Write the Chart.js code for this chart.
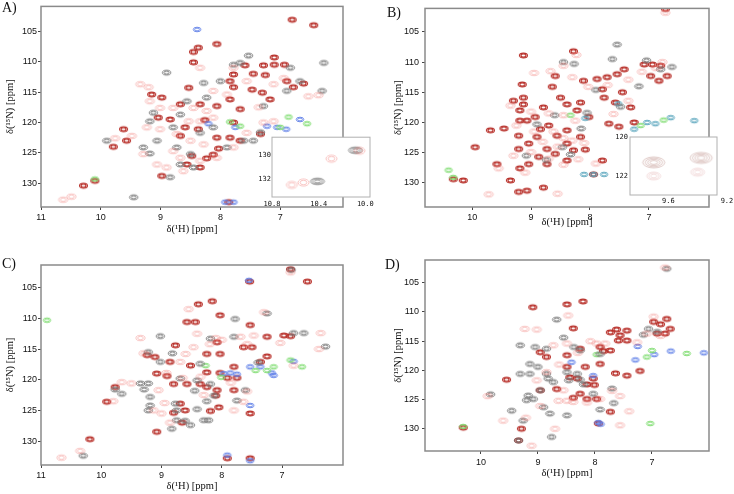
<!DOCTYPE html>
<html>
<head>
<meta charset="utf-8">
<script src="https://cdn.jsdelivr.net/npm/chart.js@4.4.1/dist/chart.umd.min.js"></script>
<style>
body { margin: 0; background: #fff; width: 734px; height: 494px; position: relative; overflow: hidden; }
canvas { position: absolute; }
.lab { position: absolute; font: 14px "Liberation Serif", serif; color: #111; }
</style>
</head>
<body>
<canvas id="chartA" width="367" height="247" style="left:0;top:0"></canvas>
<canvas id="chartB" width="367" height="247" style="left:367px;top:0"></canvas>
<canvas id="chartC" width="367" height="247" style="left:0;top:247px"></canvas>
<canvas id="chartD" width="367" height="247" style="left:367px;top:247px"></canvas>
<canvas id="insetA" width="124" height="80" style="left:256px;top:132px"></canvas>
<canvas id="insetB" width="122" height="80" style="left:612px;top:130px"></canvas>
<div class="lab" style="left:2px;top:0">A)</div>
<div class="lab" style="left:387px;top:5px">B)</div>
<div class="lab" style="left:2px;top:256px">C)</div>
<div class="lab" style="left:385px;top:257px">D)</div>
<script>
// tick labels
const xTicksWide = [11, 10, 9, 8, 7];
const xTicksNarrow = [10, 9, 8, 7];
const yTicks = [105, 110, 115, 120, 125, 130];
const insetAXTicks = [10.8, 10.4, 10.0];
const insetAYTicks = [130, 132];
const insetBXTicks = [9.6, 9.2];
const insetBYTicks = [120, 122];

// peaks [1H ppm, 15N ppm]
const aRed = [[6.80,103.1],[6.44,104.0],[8.06,107.1],[8.37,107.7],[8.45,108.4],[7.10,109.3],[8.45,110.1],[7.59,110.6],[7.28,110.6],[7.10,110.5],[6.93,110.5],[7.78,112.1],[7.45,112.0],[7.25,112.2],[7.84,113.2],[6.89,113.2],[6.61,113.6],[6.78,114.2],[7.78,114.2],[8.53,114.3],[7.47,114.6],[7.30,115.1],[9.15,115.4],[8.98,115.9],[7.84,116.2],[7.17,116.2],[8.67,117.0],[8.34,117.0],[8.06,117.3],[7.67,117.8],[9.04,119.2],[8.84,119.5],[8.26,119.6],[7.78,120.0],[9.62,121.1],[8.59,120.8],[8.37,121.1],[8.67,122.2],[8.06,122.5],[7.84,122.5],[7.33,121.9],[9.57,123.0],[7.67,123.0],[9.79,124.0],[8.03,124.3],[8.48,125.5],[8.12,125.3],[8.23,125.9],[8.56,126.9],[8.34,127.4],[8.98,128.8],[10.10,129.6],[10.29,130.4],[7.86,133.1]];
const aGrey = [[8.90,111.8],[6.27,110.2],[6.30,114.8],[7.53,109.0],[7.67,110.2],[8.00,113.2],[8.28,113.5],[8.56,116.5],[6.89,114.8],[6.67,113.2],[7.28,117.3],[8.23,115.9],[9.12,118.4],[8.67,118.7],[9.18,119.8],[8.79,120.8],[8.12,120.8],[8.34,121.7],[9.06,123.0],[9.29,124.1],[9.18,125.1],[8.73,124.1],[8.50,125.2],[7.89,124.1],[7.61,123.0],[7.45,123.0],[8.45,127.4],[8.67,126.9],[8.84,129.0],[9.90,123.0],[9.45,132.3],[7.33,121.6],[7.78,110.5],[6.83,111.0]];
const aPink = [[10.63,132.7],[10.49,132.2],[9.34,113.7],[9.20,114.2],[9.76,122.6],[9.48,122.2],[6.53,115.7],[6.36,115.5],[7.36,117.5],[9.18,116.5],[9.01,117.6],[8.79,117.6],[8.45,117.6],[8.23,118.1],[9.23,120.8],[9.01,121.1],[8.73,121.9],[8.50,123.0],[8.28,123.6],[8.79,124.7],[8.67,125.8],[8.34,126.3],[8.90,127.4],[8.62,128.0],[9.06,126.9],[8.06,125.8],[7.78,124.1],[7.56,121.7],[7.28,120.0],[7.11,119.8],[8.12,114.8],[7.89,115.4],[7.56,113.2],[7.11,113.7],[6.94,112.7],[8.34,111.0],[7.78,111.0],[8.12,119.2],[8.34,119.8],[8.53,119.8],[9.29,125.2]];
const aBlue = [[7.22,120.6],[7.05,120.8],[6.90,121.1],[6.67,119.5],[7.75,120.8],[7.92,133.1],[7.78,133.1],[8.20,120.2],[8.39,104.7]];
const aGreen = [[6.86,119.1],[6.55,120.2],[7.67,120.6],[7.00,120.8],[10.10,129.3],[7.84,119.9]];

const bRed = [[6.72,101.2],[9.13,108.9],[8.28,108.2],[8.59,112.3],[9.15,113.7],[8.64,114.1],[8.11,113.1],[7.88,112.8],[7.71,112.5],[7.54,112.0],[7.42,111.2],[7.79,114.5],[7.45,115.0],[7.08,110.4],[6.94,110.4],[6.80,110.6],[6.97,112.3],[6.83,113.1],[6.69,112.3],[9.30,116.4],[9.13,115.9],[9.13,117.0],[9.19,118.0],[8.79,117.5],[8.50,115.9],[8.39,117.0],[8.16,116.7],[7.76,115.9],[7.57,116.7],[7.31,117.5],[8.93,119.1],[9.07,119.7],[9.19,119.7],[8.22,118.0],[8.02,119.1],[7.51,120.7],[7.25,120.0],[7.68,120.2],[9.69,121.3],[9.46,121.0],[9.21,122.2],[8.84,121.1],[8.70,120.5],[8.56,122.2],[8.39,121.3],[8.16,122.4],[9.04,123.5],[8.90,122.4],[8.73,124.4],[8.39,123.5],[8.28,124.6],[8.08,124.5],[9.95,124.1],[9.21,124.4],[8.87,125.7],[8.59,125.2],[8.39,126.3],[9.58,126.9],[9.04,126.9],[8.73,126.9],[9.19,127.6],[7.79,126.3],[9.35,129.6],[10.32,129.4],[10.15,129.6],[9.21,131.5],[9.07,131.3],[8.79,130.8],[7.94,128.6]];
const bGrey = [[7.54,107.1],[7.04,109.7],[8.45,110.0],[7.17,114.0],[7.48,117.4],[8.47,124.1],[8.90,120.3],[6.80,111.2],[8.27,110.3],[7.90,114.6],[8.60,118.8],[8.15,121.0],[8.33,125.3],[9.08,125.5],[7.62,109.5],[8.74,126.2],[8.05,118.4],[6.61,110.8]];
const bPink = [[8.67,111.5],[8.45,110.6],[8.95,111.8],[8.30,112.5],[8.03,114.1],[7.70,113.8],[7.35,112.9],[7.12,111.6],[6.88,111.0],[6.77,110.0],[9.35,117.2],[9.00,118.2],[8.70,118.5],[8.45,118.8],[8.25,119.7],[9.25,120.5],[8.95,121.5],[8.62,121.5],[8.45,122.6],[8.80,123.2],[9.00,124.9],[8.55,124.0],[8.30,123.0],[8.10,123.4],[8.70,126.0],[8.45,127.0],[9.30,125.5],[9.10,128.3],[8.20,126.1],[7.60,118.6],[7.35,116.4],[7.90,126.8],[9.55,127.6],[8.55,131.8],[9.72,131.9],[6.72,101.8],[8.23,108.8]];
const bBlue = [[7.03,120.0],[6.89,120.2],[6.63,119.2],[6.23,119.7],[7.25,121.1],[8.08,119.3],[7.94,128.6],[7.76,128.6],[8.10,128.6],[7.52,116.9]];
const bGreen = [[7.14,120.5],[6.75,119.6],[10.40,127.9],[8.33,118.8],[10.32,129.1]];

const cRed = [[6.58,104.0],[7.54,104.0],[8.16,107.2],[8.39,107.7],[8.03,109.5],[8.44,110.6],[8.58,110.6],[7.53,111.1],[7.25,113.0],[6.97,112.8],[6.86,112.9],[8.77,114.4],[8.08,113.9],[7.64,114.7],[7.50,114.7],[8.25,115.8],[8.03,115.8],[7.25,116.2],[9.24,116.0],[9.11,116.3],[8.86,117.1],[8.52,117.7],[7.80,117.9],[7.36,117.1],[9.08,119.0],[8.91,119.4],[8.25,118.8],[8.03,118.9],[7.91,119.7],[7.75,119.7],[9.77,121.2],[8.80,120.7],[8.58,120.7],[8.36,120.7],[8.25,121.2],[8.08,121.7],[7.80,121.7],[9.91,123.6],[8.10,122.6],[8.05,124.5],[8.19,125.1],[8.69,123.9],[8.61,125.0],[8.80,125.4],[8.66,127.0],[9.08,128.5],[10.19,129.7],[7.91,132.8],[7.53,132.8],[7.53,125.5],[6.86,102.0]];
const cGrey = [[6.85,102.1],[9.02,112.9],[8.19,113.3],[7.80,113.0],[7.25,109.2],[7.78,110.1],[6.81,112.4],[6.64,112.4],[6.28,114.6],[9.22,115.5],[8.82,115.7],[9.02,117.1],[8.36,117.4],[9.35,120.6],[9.22,120.6],[9.29,121.6],[8.69,119.8],[8.41,120.1],[8.19,120.7],[8.13,122.6],[7.75,123.4],[9.19,122.8],[9.19,124.2],[9.22,125.0],[8.77,123.9],[8.75,125.0],[8.41,124.8],[8.25,123.5],[8.75,126.6],[8.61,126.7],[8.30,126.6],[8.83,128.0],[8.52,127.4],[8.22,126.6],[9.77,121.6],[9.66,122.3],[10.30,132.4],[7.61,121.7],[7.40,117.2],[8.45,121.8]];
const cPink = [[10.66,132.7],[10.35,131.6],[9.80,123.5],[9.66,120.4],[9.35,113.2],[9.30,115.7],[8.69,117.1],[8.60,115.8],[8.47,114.7],[8.41,112.5],[8.20,114.2],[8.00,113.5],[7.69,113.0],[7.58,114.2],[7.47,112.8],[7.03,114.0],[6.86,102.5],[6.36,112.4],[6.39,115.0],[6.81,117.7],[7.80,125.0],[7.64,123.6],[7.58,121.9],[8.30,122.5],[8.95,123.8],[9.13,125.0],[9.00,125.5],[8.86,127.0],[9.05,121.7],[9.50,120.6],[8.65,119.7],[7.85,120.5],[8.10,113.2],[8.92,118.9],[8.35,119.5],[7.30,109.0],[8.55,108.5]];
const cBlue = [[7.86,118.9],[7.97,119.0],[7.36,117.9],[7.17,118.9],[7.14,119.3],[6.81,117.0],[7.53,133.2],[7.53,124.2],[7.53,117.9],[7.55,103.8],[7.91,132.3],[7.75,119.1]];
const cGreen = [[7.25,118.5],[6.86,116.8],[6.67,117.9],[7.44,118.5],[8.27,117.7],[7.14,117.9],[10.90,110.3],[8.01,119.6]];

const dRed = [[10.31,129.8],[9.55,121.6],[9.09,109.2],[8.21,108.2],[8.49,108.7],[8.38,112.8],[7.44,113.2],[7.56,114.0],[7.73,113.5],[7.62,113.0],[7.44,114.9],[7.59,114.9],[6.97,111.7],[6.85,112.1],[6.74,111.2],[6.68,112.9],[6.91,113.7],[6.77,113.7],[8.85,117.7],[8.49,117.4],[8.26,116.3],[7.91,116.0],[7.73,116.6],[7.85,116.7],[7.21,120.1],[7.44,120.9],[7.64,120.5],[7.91,118.9],[8.17,119.4],[8.03,121.4],[8.01,122.5],[8.14,122.4],[8.31,121.4],[8.44,121.2],[8.26,124.0],[8.14,124.9],[7.97,124.9],[8.38,124.7],[8.67,123.2],[8.96,123.4],[7.94,129.1],[7.73,127.1],[9.29,130.0],[9.34,132.0],[8.49,119.4],[8.96,116.9]];
const dGrey = [[6.74,102.6],[8.67,111.3],[9.31,115.7],[9.05,116.0],[8.85,116.3],[8.55,114.4],[8.37,116.0],[8.26,116.6],[7.91,117.2],[9.14,118.9],[9.00,119.4],[9.31,120.6],[9.14,120.6],[8.85,120.6],[8.82,121.4],[8.73,122.0],[8.49,120.3],[8.46,121.7],[8.31,120.6],[8.96,123.4],[9.17,124.3],[9.08,124.9],[9.20,125.1],[8.90,126.3],[8.79,127.4],[8.49,127.7],[8.26,121.6],[8.20,122.4],[7.91,126.7],[7.67,125.6],[7.70,123.1],[7.06,112.9],[7.15,113.9],[6.91,113.4],[8.03,124.0],[9.46,126.9],[9.26,128.6],[8.76,131.4],[9.83,124.1],[9.34,132.0]];
const dPink = [[6.77,102.4],[9.61,128.6],[9.21,128.1],[9.11,132.9],[8.70,130.0],[9.23,112.9],[8.47,110.6],[8.73,115.7],[8.49,115.4],[7.97,115.4],[7.82,115.4],[7.26,115.2],[7.09,113.7],[6.97,110.8],[6.85,114.1],[8.85,120.3],[9.02,121.7],[8.55,123.4],[8.38,125.4],[8.96,126.1],[8.64,125.2],[8.49,125.2],[8.14,125.5],[7.70,123.5],[7.56,124.4],[8.08,115.0],[7.91,124.9],[7.56,129.4],[9.88,124.4],[9.02,113.0],[8.63,119.0],[8.30,117.0],[7.40,127.0]];
const dBlue = [[7.25,115.9],[6.96,117.3],[6.67,116.7],[6.09,117.0],[7.29,118.2],[7.94,128.9],[8.41,118.6],[8.03,120.9],[7.90,129.2]];
const dGreen = [[7.97,117.3],[7.09,117.7],[6.39,117.1],[7.00,116.6],[7.03,129.1],[10.31,129.6]];

const insetAGrey = [[10.085,129.56],[10.41,132.2]];
const insetAPink = [[10.05,129.6],[10.29,130.28],[10.53,132.3],[10.63,132.5]];
const insetBPeaks = [[9.70,121.3],[9.376,121.07]];
const insetBLow = [[9.70,122.0],[9.40,121.8]];

// contour-like ring images used as point styles
function makeRing(color, rx, ry, lw, levels) {
    const c = document.createElement("canvas");
    c.width = Math.ceil(rx * 2 + lw * 2 + 2);
    c.height = Math.ceil(ry * 2 + lw * 2 + 2);
    const g = c.getContext("2d");
    g.strokeStyle = color;
    g.lineWidth = lw;
    for (let i = 0; i < levels; i++) {
        const f = 1 - i / (levels + 0.6);
        g.beginPath();
        g.ellipse(c.width / 2, c.height / 2, rx * f, ry * f, 0, 0, Math.PI * 2);
        g.stroke();
    }
    return c;
}
const ringRed = makeRing("#b8302a", 4, 2.4, 1.1, 2);
const ringGrey = makeRing("#777", 4.2, 2.4, 1, 2);
const ringPink = makeRing("rgba(240,120,115,0.45)", 4.6, 2.7, 0.9, 2);
const ringBlue = makeRing("#6080e8", 3.8, 2.3, 0.9, 2);
const ringTeal = makeRing("#5aa6bd", 3.8, 2.3, 0.9, 2);
const ringGreen = makeRing("#7fdc70", 3.8, 2.3, 0.9, 2);
const ringInsetGrey = makeRing("#8a8a8a", 7, 3.3, 0.9, 3);
const ringInsetPink = makeRing("rgba(240,120,115,0.45)", 5.5, 3.6, 0.9, 2);
const ringInsetB = makeRing("rgba(170,110,100,0.5)", 11, 5.5, 0.7, 4);
const ringInsetBLow = makeRing("rgba(220,150,150,0.4)", 7, 4, 0.7, 3);

// frame around the plot area
function frame(color, width, fill) {
    return {
        id: "frame",
        beforeDraw(chart) {
            if (!fill) return;
            const a = chart.chartArea, ctx = chart.ctx;
            ctx.save();
            ctx.fillStyle = "#fff";
            ctx.fillRect(a.left, a.top, a.right - a.left, a.bottom - a.top);
            ctx.restore();
        },
        afterDatasetsDraw(chart) {
            const a = chart.chartArea, ctx = chart.ctx;
            ctx.save();
            ctx.strokeStyle = color;
            ctx.lineWidth = width;
            ctx.strokeRect(a.left, a.top, a.right - a.left, a.bottom - a.top);
            ctx.restore();
        }
    };
}

function makeChart(id, o) {
    const tickFont = o.inset ? {family: "DejaVu Sans Mono", size: 7} : {family: "Liberation Sans", size: 9};
    const grid = o.inset ? {display: false, drawTicks: false}
        : {display: true, drawOnChartArea: false, drawTicks: true, tickLength: 3, color: "#444", lineWidth: 1};
    const titleFont = {family: "Liberation Serif", size: 10.5};
    return new Chart(document.getElementById(id), {
        type: "scatter",
        data: {
            datasets: o.sets.map(s => ({
                data: s[0].map(p => ({x: p[0], y: p[1]})),
                pointStyle: s[1],
                pointRadius: 3
            }))
        },
        options: {
            responsive: false,
            animation: false,
            events: [],
            layout: {padding: o.pad},
            plugins: {legend: {display: false}, tooltip: {enabled: false}},
            scales: {
                x: {
                    type: "linear", reverse: true, min: o.x[0], max: o.x[1],
                    afterBuildTicks: s => { s.ticks = o.xTicks.map(v => ({value: v})); },
                    afterFit: s => { s.height = o.xH; },
                    ticks: {font: tickFont, color: "#111", padding: o.xPad, autoSkip: false, maxRotation: 0,
                        callback: v => o.inset ? v.toFixed(1) : v},
                    grid: grid,
                    border: {display: false},
                    title: {display: !!o.xTitle, text: o.xTitle, font: titleFont, color: "#111",
                        padding: {top: 0, bottom: o.xTitlePad || 0}}
                },
                y: {
                    type: "linear", reverse: true, min: o.y[0], max: o.y[1],
                    afterBuildTicks: s => { s.ticks = o.yTicks.map(v => ({value: v})); },
                    afterFit: s => { s.width = o.yW; },
                    ticks: {font: tickFont, color: "#111", padding: o.yPad, autoSkip: false},
                    grid: grid,
                    border: {display: false},
                    title: {display: !!o.yTitle, text: o.yTitle, font: titleFont, color: "#111",
                        padding: {top: o.yTitlePad || 0, bottom: 0}}
                }
            }
        },
        plugins: [o.inset ? frame("#b0b0b0", 1, true) : frame("#8a8a8a", 1.5, false)]
    });
}

const hTitle = "δ(¹H) [ppm]";
const nTitle = "δ(¹⁵N) [ppm]";

makeChart("chartA", {
    pad: {top: 5, right: 24, left: 0, bottom: 0}, x: [5.95, 11], y: [100.9, 133.9],
    xTicks: xTicksWide, yTicks: yTicks, xH: 40, yW: 41, xPad: 2, yPad: 1,
    xTitle: hTitle, yTitle: nTitle, xTitlePad: 11.7, yTitlePad: 3.7,
    sets: [[aPink, ringPink], [aGrey, ringGrey], [aGreen, ringGreen], [aBlue, ringBlue], [aRed, ringRed]]
});
makeChart("chartB", {
    pad: {top: 7, right: 25, left: 0, bottom: 0}, x: [5.98, 10.8], y: [101.1, 134],
    xTicks: xTicksNarrow, yTicks: yTicks, xH: 40, yW: 58, xPad: 2, yPad: 3,
    xTitle: hTitle, yTitle: nTitle, xTitlePad: 18, yTitlePad: 25.4,
    sets: [[bPink, ringPink], [bGrey, ringGrey], [bGreen, ringGreen], [bBlue, ringTeal], [bRed, ringRed]]
});
makeChart("chartC", {
    pad: {top: 18, right: 24, left: 0, bottom: 0}, x: [5.99, 11], y: [101.3, 133.9],
    xTicks: xTicksWide, yTicks: yTicks, xH: 29, yW: 41, xPad: 2, yPad: 1,
    xTitle: hTitle, yTitle: nTitle, xTitlePad: 1.4, yTitlePad: 3.7,
    sets: [[cPink, ringPink], [cGrey, ringGrey], [cGreen, ringGreen], [cBlue, ringBlue], [cRed, ringRed]]
});
makeChart("chartD", {
    pad: {top: 13, right: 25, left: 0, bottom: 0}, x: [6.0, 10.98], y: [101.1, 133.8],
    xTicks: xTicksNarrow, yTicks: yTicks, xH: 43, yW: 58, xPad: 3, yPad: 3,
    xTitle: hTitle, yTitle: nTitle, xTitlePad: 14, yTitlePad: 25.4,
    sets: [[dPink, ringPink], [dGrey, ringGrey], [dGreen, ringGreen], [dBlue, ringBlue], [dRed, ringRed]]
});

// insets
makeChart("insetA", {
    inset: true, pad: {top: 4, right: 10, left: 0, bottom: 0}, x: [9.96, 10.8], y: [128.45, 133.53],
    xTicks: insetAXTicks, yTicks: insetAYTicks, xH: 15, yW: 16, xPad: 3, yPad: 1,
    sets: [[insetAPink, ringInsetPink], [insetAGrey, ringInsetGrey]]
});
makeChart("insetB", {
    inset: true, pad: {top: 7, right: 17, left: 0, bottom: 0}, x: [9.268, 9.862], y: [120.0, 122.97],
    xTicks: insetBXTicks, yTicks: insetBYTicks, xH: 15, yW: 18, xPad: 2, yPad: 2,
    sets: [[insetBLow, ringInsetBLow], [insetBPeaks, ringInsetB]]
});
</script>
</body>
</html>
